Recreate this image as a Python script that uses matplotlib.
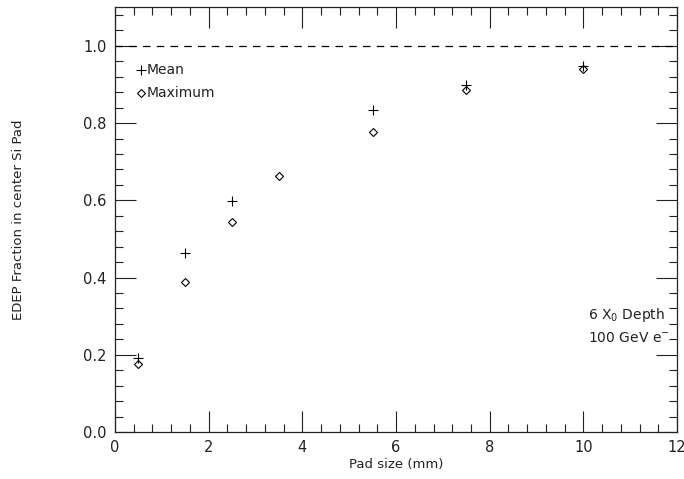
import matplotlib
matplotlib.use("Agg")
import matplotlib.pyplot as plt
from matplotlib.ticker import MultipleLocator

# pad size (mm) and EDEP fraction in the center pad
pad_mean = [0.5, 1.5, 2.5, 5.5, 7.5, 10.0]
frac_mean = [0.191, 0.464, 0.597, 0.834, 0.899, 0.948]
pad_max = [0.5, 1.5, 2.5, 3.5, 5.5, 7.5, 10.0]
frac_max = [0.177, 0.389, 0.543, 0.662, 0.776, 0.886, 0.939]

plt.rcParams['font.family'] = 'DejaVu Sans'
plt.rcParams['font.size'] = 10
ink = '#222222'

fig = plt.figure(figsize=(6.84, 4.79), dpi=100)
ax = fig.add_axes([0.168, 0.098, 0.822, 0.887])

ax.plot(pad_mean, frac_mean, '+', color='black', markersize=6.5, markeredgewidth=0.8)
ax.plot(pad_max, frac_max, 'D', color='black', markerfacecolor='none',
        markersize=4.2, markeredgewidth=0.8)
ax.axhline(1.0, color='black', linestyle=(0, (6, 5)), linewidth=0.9)

ax.set_xlim(0, 12)
ax.set_ylim(0, 1.1)
ax.xaxis.set_major_locator(MultipleLocator(2))
ax.xaxis.set_minor_locator(MultipleLocator(0.4))
ax.yaxis.set_major_locator(MultipleLocator(0.2))
ax.yaxis.set_minor_locator(MultipleLocator(0.04))
ax.yaxis.set_major_formatter(plt.FormatStrFormatter('%.1f'))
ax.tick_params(which='both', direction='in', top=True, right=True, width=0.8,
               colors=ink)
ax.tick_params(which='major', length=15, labelsize=10.5, pad=6)
ax.tick_params(which='minor', length=6)
for s in ax.spines.values():
    s.set_linewidth(0.9)
    s.set_color(ink)

ax.set_xlabel('Pad size (mm)', fontsize=9.5, labelpad=2, color=ink)
ax.set_ylabel('EDEP Fraction in center Si Pad', fontsize=9.5, labelpad=42,
              color=ink)

# legend drawn by hand to match the original layout
ax.plot([0.55], [0.938], '+', color='black', markersize=6.5, markeredgewidth=0.8)
ax.text(0.68, 0.938, 'Mean', va='center', fontsize=10, color=ink)
ax.plot([0.55], [0.879], 'D', color='black', markerfacecolor='none',
        markersize=4.2, markeredgewidth=0.8)
ax.text(0.68, 0.879, 'Maximum', va='center', fontsize=10, color=ink)

ax.text(10.1, 0.303, r'6 X$_0$ Depth', fontsize=10, va='center', color=ink)
ax.text(10.1, 0.243, r'100 GeV e$^{-}$', fontsize=10, va='center', color=ink)

fig.savefig('out.png', dpi=100)
